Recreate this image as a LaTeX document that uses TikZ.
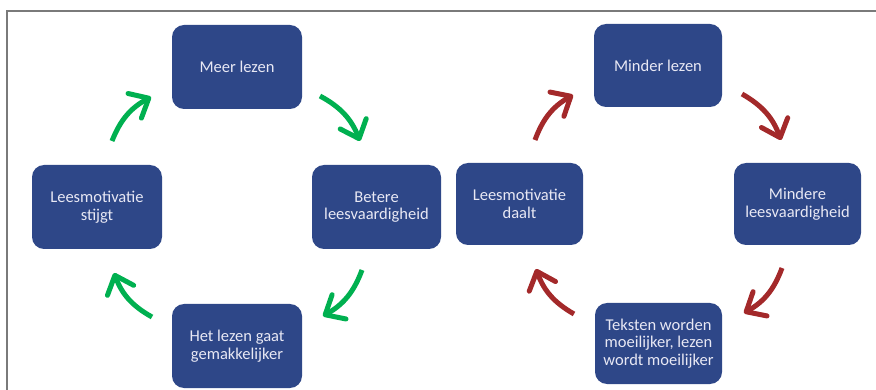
\documentclass[tikz,border=0pt]{standalone}
\usepackage{fontspec}
\setmainfont{Carlito}
\usetikzlibrary{arrows.meta}
\definecolor{boxblue}{HTML}{2E4788}
\definecolor{boxtext}{HTML}{E8E8F4}
\definecolor{cgreen}{HTML}{00B050}
\definecolor{cred}{HTML}{A3292A}
\definecolor{framegray}{HTML}{7A7A7A}
\tikzset{
  cyclebox/.style={fill=boxblue, rounded corners=12pt, text=boxtext, align=center,
    font=\fontsize{16.5}{17.5}\selectfont, inner sep=0pt},
  cyclearrow/.style={line width=5pt, bend left=20,
    -{Straight Barb[length=16pt, width=28pt, line width=5pt, round]}},
  greenarrow/.style={cyclearrow, draw=cgreen},
  redarrow/.style={cyclearrow, draw=cred},
  framerule/.style={line width=1.3pt, draw=framegray}
}
\begin{document}
\begin{tikzpicture}[x=1pt, y=-1pt]
\useasboundingbox (0,0) rectangle (876,390);
% frame
\coordinate (fl) at (7,390);
\coordinate (fc) at (7,11);
\coordinate (fr) at (876,11);
\draw[framerule] (fl) -- (fc) -- (fr);
% left cycle
\node[cyclebox, minimum width=130pt, minimum height=84pt] (meer) at (237,67) {Meer lezen};
\node[cyclebox, minimum width=129pt, minimum height=84pt] (betere) at (376.5,207) {Betere\\leesvaardigheid};
\node[cyclebox, minimum width=130pt, minimum height=84pt] (het) at (237,346) {Het lezen gaat\\gemakkelijker};
\node[cyclebox, minimum width=130pt, minimum height=84pt] (stijgt) at (97,207) {Leesmotivatie\\stijgt};
% right cycle
\node[cyclebox, minimum width=128pt, minimum height=83pt] (minder) at (658,65.5) {Minder lezen};
\node[cyclebox, minimum width=127pt, minimum height=82pt] (mindere) at (797.5,204) {Mindere\\leesvaardigheid};
\node[cyclebox, minimum width=127pt, minimum height=81pt] (teksten) at (658.5,343.5) {Teksten worden\\moeilijker, lezen\\wordt moeilijker};
\node[cyclebox, minimum width=127pt, minimum height=82pt] (daalt) at (519.5,204) {Leesmotivatie\\daalt};
% arrow end points
\coordinate (g1s) at (112,141);
\coordinate (g1e) at (151,97);
\coordinate (g2s) at (320,96);
\coordinate (g2e) at (360,141);
\coordinate (g3s) at (362,270);
\coordinate (g3e) at (323,316);
\coordinate (g4s) at (152,317);
\coordinate (g4e) at (114,273);
\coordinate (r1s) at (535,140);
\coordinate (r1e) at (573,95);
\coordinate (r2s) at (742,94);
\coordinate (r2e) at (781,140);
\coordinate (r3s) at (782,268);
\coordinate (r3e) at (744,313);
\coordinate (r4s) at (574,314);
\coordinate (r4e) at (536,269);
\draw[greenarrow] (g1s) to (g1e);
\draw[greenarrow] (g2s) to (g2e);
\draw[greenarrow] (g3s) to (g3e);
\draw[greenarrow] (g4s) to (g4e);
\draw[redarrow] (r1s) to (r1e);
\draw[redarrow] (r2s) to (r2e);
\draw[redarrow] (r3s) to (r3e);
\draw[redarrow] (r4s) to (r4e);
\end{tikzpicture}
\end{document}
